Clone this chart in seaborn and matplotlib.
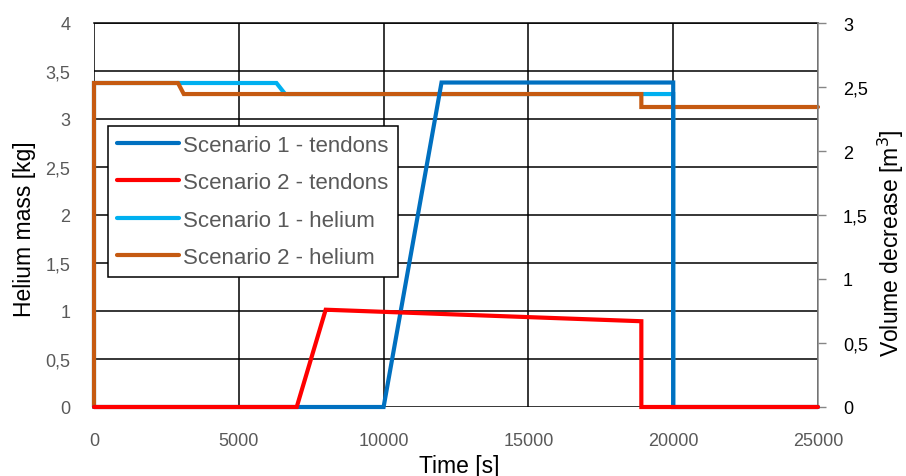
import matplotlib
matplotlib.use("Agg")
import matplotlib.pyplot as plt
import seaborn as sns
import pandas as pd

# Data
t_s1_tendons = [0, 10000, 12000, 20000, 20000, 25000]
v_s1_tendons = [0, 0, 2.535, 2.535, 0, 0]          # volume decrease [m3]
t_s2_tendons = [0, 7000, 8000, 18900, 18900, 25000]
v_s2_tendons = [0, 0, 0.76, 0.67, 0, 0]             # volume decrease [m3]
t_s1_helium = [0, 0, 6300, 6600, 20000, 20000]
m_s1_helium = [0, 3.375, 3.375, 3.26, 3.26, 0]      # helium mass [kg]
t_s2_helium = [0, 0, 2900, 3100, 18900, 18900, 25000]
m_s2_helium = [0, 3.375, 3.375, 3.26, 3.26, 3.125, 3.125]

labels = ["Scenario 1 - tendons", "Scenario 2 - tendons",
          "Scenario 1 - helium", "Scenario 2 - helium"]
colors = ["#0070C0", "#FF0000", "#00B0F0", "#C55A11"]
x_ticks = [0, 5000, 10000, 15000, 20000, 25000]
y_left_ticks = [0, 0.5, 1, 1.5, 2, 2.5, 3, 3.5, 4]
y_right_ticks = [0, 0.5, 1, 1.5, 2, 2.5, 3]

sns.set_style("white")
plt.rcParams['font.family'] = ['Liberation Sans', 'DejaVu Sans']

fig = plt.figure(figsize=(9.06, 4.77), dpi=100)
ax = fig.add_axes([94/906, 69/477, 724/906, 384/477])
ax2 = ax.twinx()

lw = 3
df_h1 = pd.DataFrame({"t": t_s1_helium, "v": m_s1_helium})
df_h2 = pd.DataFrame({"t": t_s2_helium, "v": m_s2_helium})
df_t1 = pd.DataFrame({"t": t_s1_tendons, "v": v_s1_tendons})
df_t2 = pd.DataFrame({"t": t_s2_tendons, "v": v_s2_tendons})

sns.lineplot(data=df_h1, x="t", y="v", ax=ax, color=colors[2], lw=lw,
             estimator=None, sort=False, label=labels[2], legend=False, zorder=3)
sns.lineplot(data=df_h2, x="t", y="v", ax=ax, color=colors[3], lw=lw,
             estimator=None, sort=False, label=labels[3], legend=False, zorder=4)
sns.lineplot(data=df_t1, x="t", y="v", ax=ax2, color=colors[0], lw=lw,
             estimator=None, sort=False, label=labels[0], legend=False, zorder=3)
sns.lineplot(data=df_t2, x="t", y="v", ax=ax2, color=colors[1], lw=lw,
             estimator=None, sort=False, label=labels[1], legend=False, zorder=4)

for a in (ax, ax2):
    for ln in a.get_lines():
        ln.set_solid_joinstyle("miter")
        ln.set_clip_on(False)

ax.set_xlim(0, 25000)
ax.set_ylim(0, 4)
ax2.set_ylim(0, 3)
ax.set_xticks(x_ticks)
ax.set_xticklabels([str(v) for v in x_ticks])
ax.set_yticks(y_left_ticks)
ax.set_yticklabels([f"{v:g}".replace(".", ",") for v in y_left_ticks])
ax2.set_yticks(y_right_ticks)
ax2.set_yticklabels([f"{v:g}".replace(".", ",") for v in y_right_ticks])

ax.grid(True, color="black", lw=1.1)
ax.set_axisbelow(True)
for s in ["left", "bottom", "right"]:
    ax.spines[s].set_visible(False)
ax.spines["top"].set_color("black")
ax.spines["top"].set_linewidth(1.1)
for s in ["left", "bottom", "top"]:
    ax2.spines[s].set_visible(False)
ax2.spines["right"].set_color("#868686")
ax2.spines["right"].set_linewidth(1.1)

ax.tick_params(axis="y", length=0, pad=17, labelsize=13, labelcolor="#595959")
ax.tick_params(axis="x", length=0, pad=18, labelsize=13, labelcolor="#595959")
ax2.tick_params(axis="y", length=6, width=1, color="#868686", pad=12,
                labelsize=13, labelcolor="black", direction="out")

ax.set_xlabel("Time [s]", fontsize=16.5, color="black")
ax.xaxis.set_label_coords(0.505, -0.122)
ax.xaxis.label.set_va("top")
ax.set_ylabel("Helium mass [kg]", fontsize=16.5, color="black")
ax.yaxis.set_label_coords(-0.080, 0.466)
ax2.set_ylabel("Volume decrease [m$^3$]", fontsize=16.5, color="black")
ax2.yaxis.set_label_coords(1.080, 0.428)

handles = ax2.get_lines() + ax.get_lines()
leg = ax2.legend(handles, labels, loc="upper left",
                 bbox_to_anchor=(0.019, 0.732), borderaxespad=0,
                 fontsize=16, frameon=True,
                 fancybox=False, edgecolor="black", framealpha=1,
                 handlelength=2.8, handletextpad=0.2, labelspacing=0.74,
                 borderpad=0.4)
leg.get_frame().set_linewidth(1.1)
for txt in leg.get_texts():
    txt.set_color("#595959")
leg.set_zorder(10)

fig.savefig("out.png", dpi=100)
